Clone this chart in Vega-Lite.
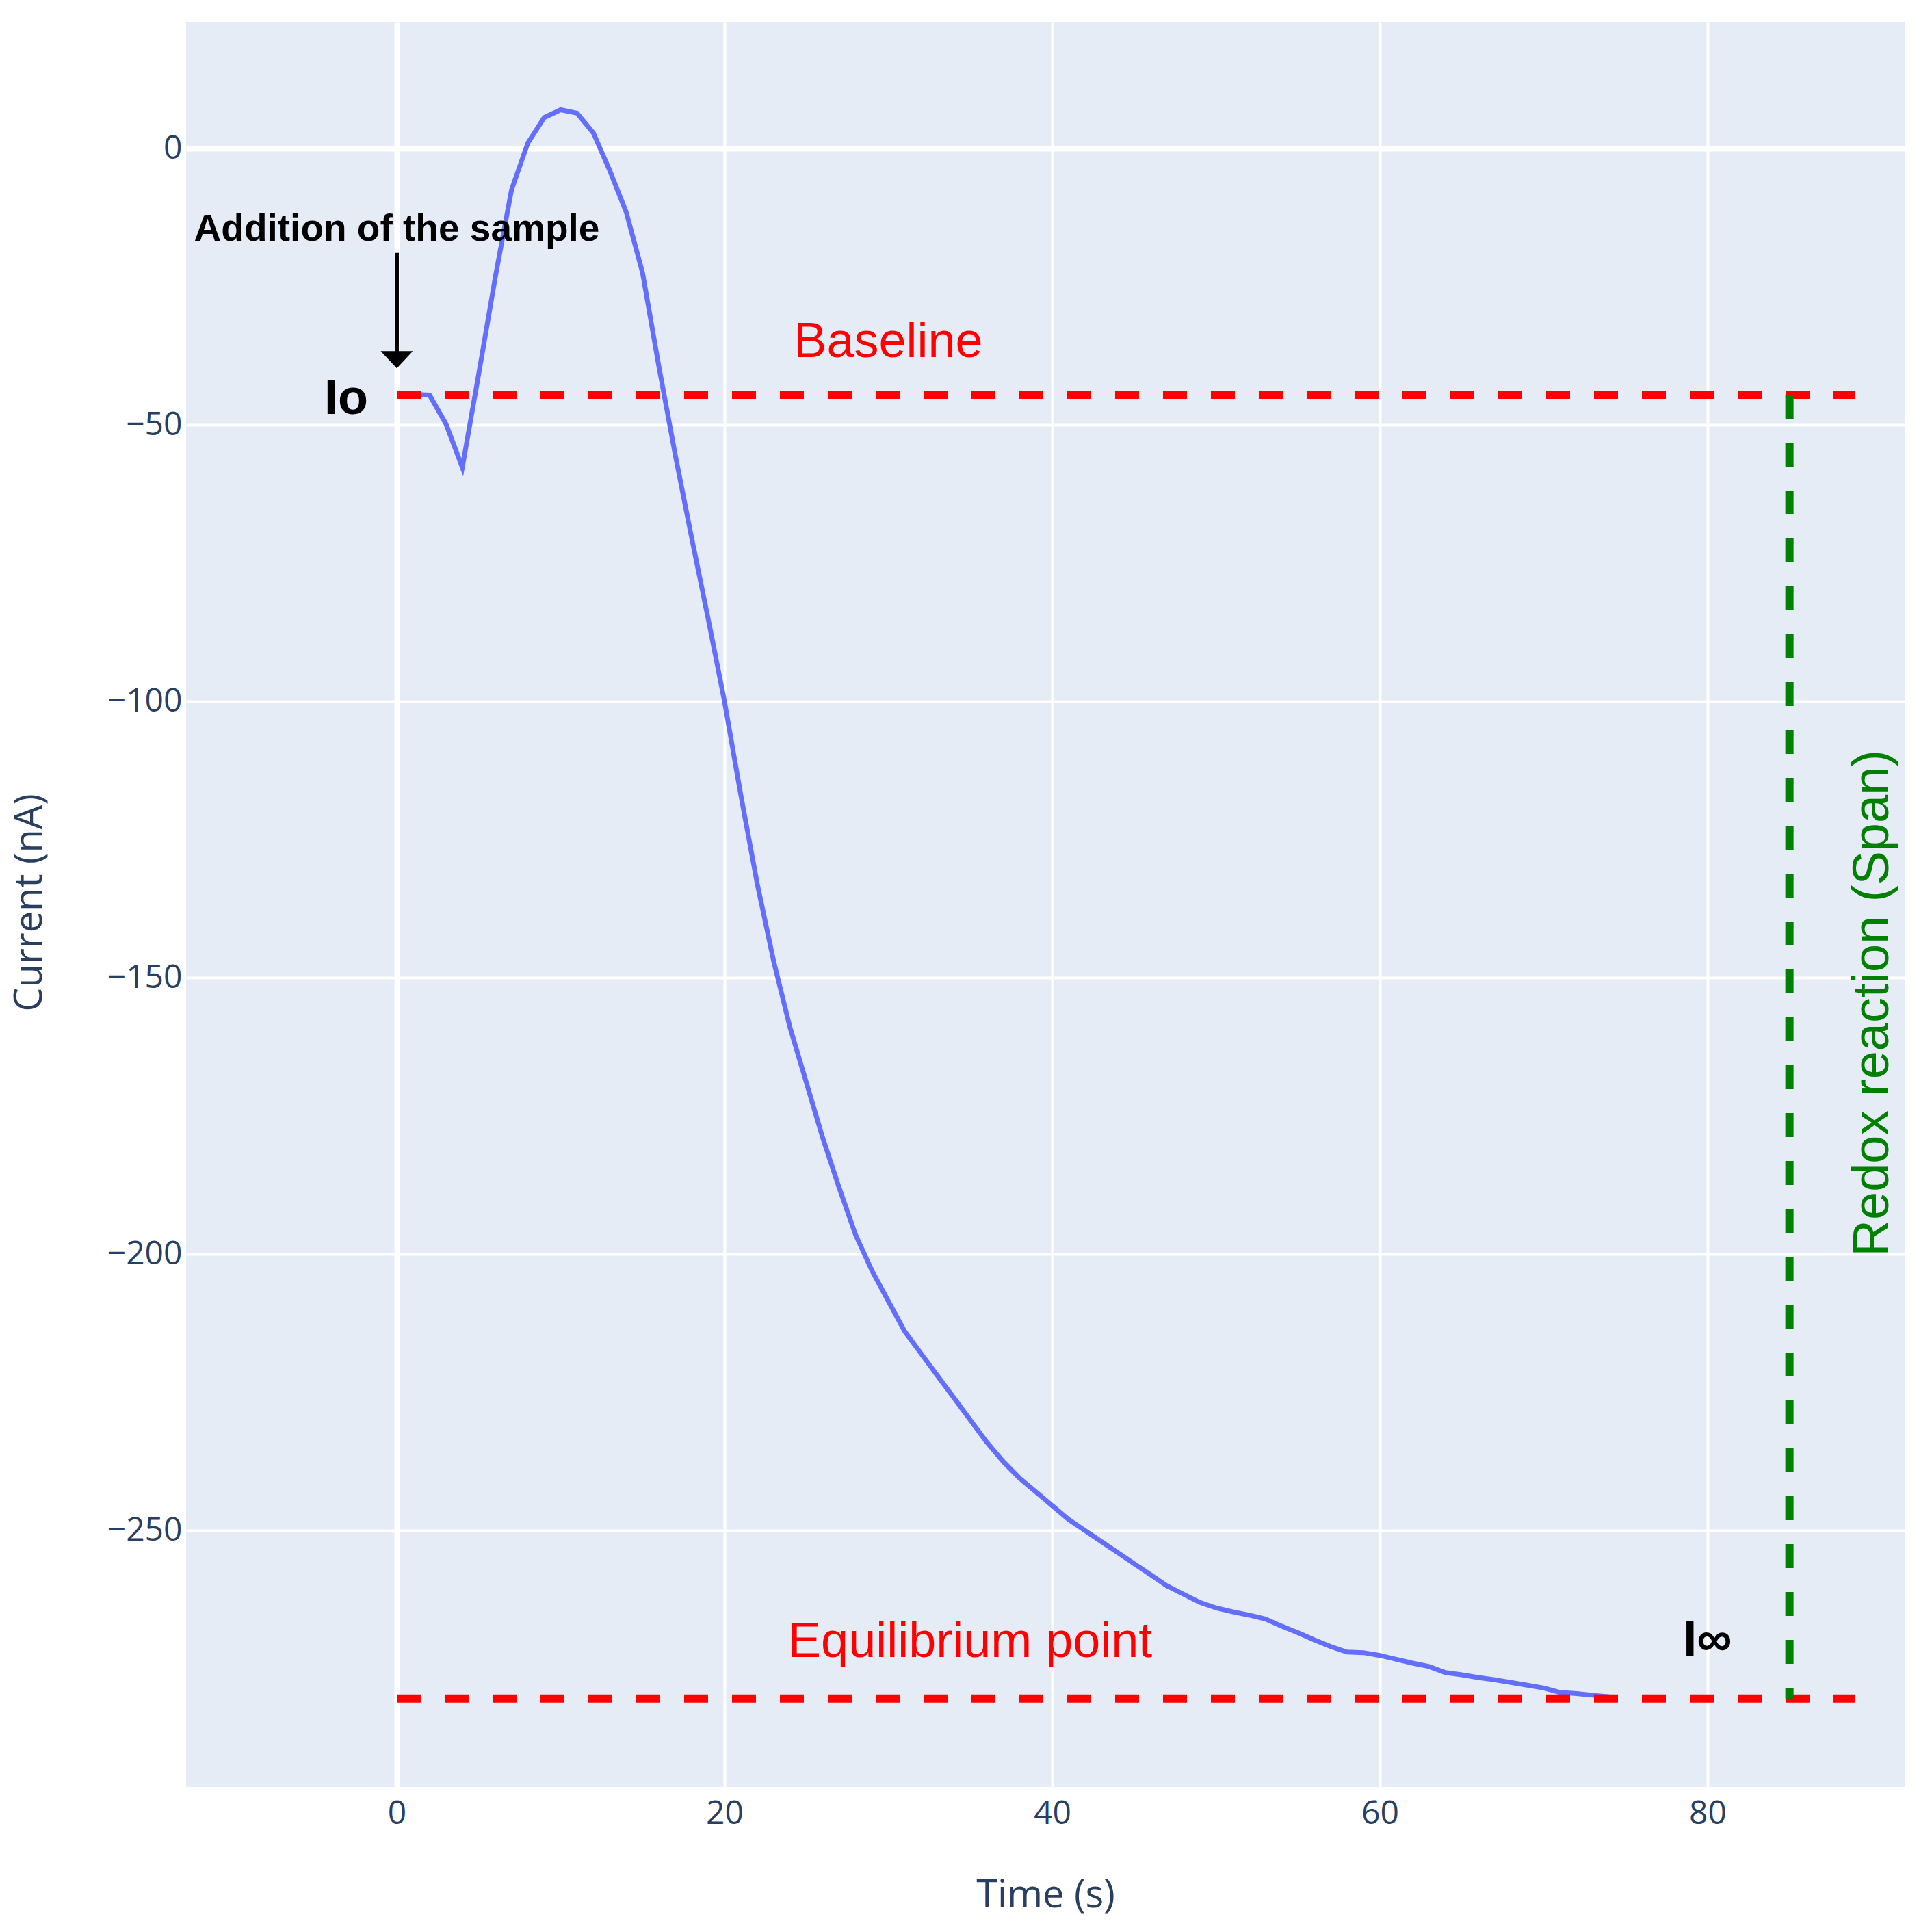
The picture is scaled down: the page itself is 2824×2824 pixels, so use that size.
{
  "$schema": "https://vega.github.io/schema/vega-lite/v6.json",
  "autosize": {"type": "none"},
  "padding": {"left": 272, "top": 32, "right": 40, "bottom": 212},
  "width": 2512,
  "height": 2580,
  "background": "white",
  "config": {
    "view": {"fill": "#E5ECF6", "stroke": null},
    "axis": {
      "labelFont": "Open Sans",
      "titleFont": "Open Sans",
      "labelColor": "#2a3f5f",
      "titleColor": "#2a3f5f",
      "labelFontSize": 48,
      "titleFontSize": 56,
      "titleFontWeight": "normal",
      "ticks": false,
      "tickSize": 0,
      "domain": false,
      "gridColor": "white",
      "gridOpacity": 1,
      "gridWidth": {"condition": {"test": "datum.value === 0", "value": 8}, "value": 4}
    }
  },
  "encoding": {
    "x": {
      "field": "t",
      "type": "quantitative",
      "scale": {"domain": [-12.86, 92.03], "nice": false, "zero": false},
      "axis": {
        "title": "Time (s)",
        "values": [0, 20, 40, 60, 80],
        "labelBaseline": "alphabetic",
        "labelPadding": 53,
        "titleBaseline": "alphabetic",
        "titleX": 1256,
        "titleY": 175
      }
    },
    "y": {
      "field": "v",
      "type": "quantitative",
      "scale": {"domain": [-296.4, 22.9], "nice": false, "zero": false},
      "axis": {
        "title": "Current (nA)",
        "values": [-250, -200, -150, -100, -50, 0],
        "labelPadding": 6,
        "titleAngle": 270,
        "titleBaseline": "alphabetic",
        "titleX": -212,
        "titleY": 1287
      }
    }
  },
  "layer": [
    {
      "data": {"values": [
        {"t": 0, "v": -44.5}, {"t": 1, "v": -44.5}, {"t": 2, "v": -44.6}, {"t": 3, "v": -49.8},
        {"t": 4, "v": -57.7}, {"t": 5, "v": -40.8}, {"t": 6, "v": -23.5}, {"t": 7, "v": -7.5},
        {"t": 8, "v": 1.0}, {"t": 9, "v": 5.6}, {"t": 10, "v": 7.0}, {"t": 11, "v": 6.4},
        {"t": 12, "v": 2.8}, {"t": 13, "v": -4.0}, {"t": 14, "v": -11.5}, {"t": 15, "v": -22.5},
        {"t": 16, "v": -39.5}, {"t": 17, "v": -55.5}, {"t": 18, "v": -70.5}, {"t": 19, "v": -85.0},
        {"t": 20, "v": -100.0}, {"t": 21, "v": -117.0}, {"t": 22, "v": -133.0}, {"t": 23, "v": -147.0},
        {"t": 24, "v": -159.0}, {"t": 25, "v": -169.0}, {"t": 26, "v": -179.0}, {"t": 27, "v": -188.0},
        {"t": 28, "v": -196.5}, {"t": 29, "v": -203.0}, {"t": 30, "v": -208.5}, {"t": 31, "v": -214.0},
        {"t": 32, "v": -218.0}, {"t": 33, "v": -222.0}, {"t": 34, "v": -226.0}, {"t": 35, "v": -230.0},
        {"t": 36, "v": -234.0}, {"t": 37, "v": -237.5}, {"t": 38, "v": -240.5}, {"t": 39, "v": -243.0},
        {"t": 40, "v": -245.5}, {"t": 41, "v": -248.0}, {"t": 42, "v": -250.0}, {"t": 43, "v": -252.0},
        {"t": 44, "v": -254.0}, {"t": 45, "v": -256.0}, {"t": 46, "v": -258.0}, {"t": 47, "v": -260.0},
        {"t": 48, "v": -261.5}, {"t": 49, "v": -263.0}, {"t": 50, "v": -264.0}, {"t": 51, "v": -264.7},
        {"t": 52, "v": -265.3}, {"t": 53, "v": -266.0}, {"t": 54, "v": -267.3}, {"t": 55, "v": -268.5},
        {"t": 56, "v": -269.8}, {"t": 57, "v": -271.0}, {"t": 58, "v": -272.0}, {"t": 59, "v": -272.1},
        {"t": 60, "v": -272.6}, {"t": 61, "v": -273.3}, {"t": 62, "v": -274.0}, {"t": 63, "v": -274.6},
        {"t": 64, "v": -275.7}, {"t": 65, "v": -276.1}, {"t": 66, "v": -276.6}, {"t": 67, "v": -277.0},
        {"t": 68, "v": -277.5}, {"t": 69, "v": -278.0}, {"t": 70, "v": -278.5}, {"t": 71, "v": -279.3},
        {"t": 72, "v": -279.5}, {"t": 73, "v": -279.8}, {"t": 74, "v": -280.1}
      ]},
      "mark": {"type": "line", "color": "#636efa", "strokeWidth": 7}
    },
    {
      "data": {"values": [
        {"t": 0, "t2": 89, "v": -44.55},
        {"t": 0, "t2": 89, "v": -280.4}
      ]},
      "mark": {"type": "rule", "color": "red", "strokeWidth": 12, "strokeDash": [35, 35], "strokeCap": "butt"},
      "encoding": {"x2": {"field": "t2"}}
    },
    {
      "data": {"values": [{"t": 85, "v": -44.55, "v2": -280.4}]},
      "mark": {"type": "rule", "color": "green", "strokeWidth": 12, "strokeDash": [35, 35], "strokeCap": "butt"},
      "encoding": {"y2": {"field": "v2"}}
    },
    {
      "data": {"values": [{"t": 0, "v": -18.9, "v2": -37.0}]},
      "mark": {"type": "rule", "color": "black", "strokeWidth": 6},
      "encoding": {"y2": {"field": "v2"}}
    },
    {
      "data": {"values": [{"t": 0, "v": -38.2}]},
      "mark": {"type": "point", "shape": "M -1 -0.53 L 1 -0.53 L 0 0.53 Z", "size": 2209, "filled": true, "color": "black", "opacity": 1}
    },
    {
      "data": {"values": [{"t": 0, "v": -16.7, "label": "Addition of the sample"}]},
      "mark": {"type": "text", "font": "Liberation Sans", "fontWeight": "bold", "fontSize": 55, "color": "black", "align": "center", "baseline": "alphabetic"},
      "encoding": {"text": {"field": "label"}}
    },
    {
      "data": {"values": [{"t": 0, "v": -44.55, "label": "Io"}]},
      "mark": {"type": "text", "font": "Liberation Sans", "fontWeight": "bold", "fontSize": 72, "color": "black", "align": "right", "baseline": "alphabetic", "dx": -42, "dy": 28},
      "encoding": {"text": {"field": "label"}}
    },
    {
      "data": {"values": [{"t": 80, "v": -272.6, "label": "I∞"}]},
      "mark": {"type": "text", "font": "Liberation Sans", "fontWeight": "bold", "fontSize": 72, "color": "black", "align": "center", "baseline": "alphabetic"},
      "encoding": {"text": {"field": "label"}}
    },
    {
      "data": {"values": [
        {"t": 30, "v": -37.7, "label": "Baseline"},
        {"t": 35, "v": -272.9, "label": "Equilibrium point"}
      ]},
      "mark": {"type": "text", "font": "Liberation Sans", "fontSize": 72, "color": "red", "align": "center", "baseline": "alphabetic"},
      "encoding": {"text": {"field": "label"}}
    },
    {
      "data": {"values": [{"t": 90.1, "v": -154.6, "label": "Redox reaction (Span)"}]},
      "mark": {"type": "text", "font": "Liberation Sans", "fontSize": 74, "color": "green", "align": "center", "baseline": "middle", "angle": 270},
      "encoding": {"text": {"field": "label"}}
    }
  ]
}
